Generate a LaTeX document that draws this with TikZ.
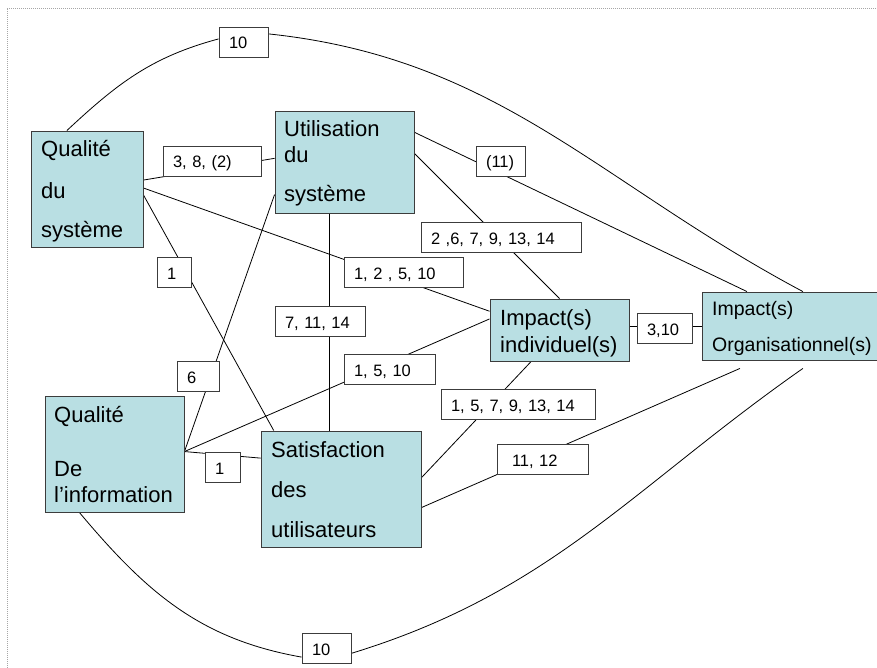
\documentclass[tikz,border=0pt]{standalone}
\usepackage{fontspec}
\setmainfont{Liberation Sans}
\usetikzlibrary{backgrounds}
\definecolor{boxfill}{RGB}{185,223,227}
\definecolor{edge}{RGB}{60,60,60}
\begin{document}
\begin{tikzpicture}[x=1pt,y=-1pt,
  box/.style={rectangle, draw=edge, fill=boxfill, line width=0.9pt, inner sep=0pt},
  tag/.style={rectangle, draw=edge, fill=white, line width=0.9pt, inner xsep=10pt,
    inner ysep=0pt, minimum height=30pt, align=left, text height=14pt, text depth=0pt,
    font=\fontsize{16.5}{18}\selectfont},
  txt/.style={anchor=base west, inner sep=0pt, font=\fontsize{22}{24}\selectfont},
  smalltxt/.style={anchor=base west, inner sep=0pt, font=\fontsize{19.5}{22}\selectfont},
  link/.style={line width=0.8pt, black}]
\useasboundingbox (0,0) rectangle (877,668);
\clip (0,0) rectangle (877,668);

% frame
\draw[gray!70, line width=0.8pt, dash pattern=on 1pt off 1pt] (7,668) -- (7,8) -- (877,8);

% main boxes
\node[box, minimum width=112pt, minimum height=116pt] (QS) at (87,189) {};
\node[box, minimum width=139pt, minimum height=102pt] (US) at (344.5,162) {};
\node[box, minimum width=139pt, minimum height=116pt] (QI) at (114.5,454) {};
\node[box, minimum width=160pt, minimum height=116pt] (SU) at (341,489) {};
\node[box, minimum width=139pt, minimum height=62pt] (II) at (559.5,330) {};
\node[box, minimum width=178pt, minimum height=68pt] (Org) at (791,326) {};

% box texts
\node[txt] (qs1) at (41,157) {Qualité};
\node[txt] (qs2) at (41,199) {du};
\node[txt] (qs3) at (41,237) {système};
\node[txt] (us1) at (284,137) {Utilisation};
\node[txt] (us2) at (284,163) {du};
\node[txt] (us3) at (284,202) {système};
\node[txt] (qi1) at (54,422) {Qualité};
\node[txt] (qi2) at (54,476) {De};
\node[txt] (qi3) at (54,502) {l’information};
\node[txt] (su1) at (271,457) {Satisfaction};
\node[txt] (su2) at (271,497) {des};
\node[txt] (su3) at (271,537) {utilisateurs};
\node[txt] (ii1) at (500,325) {Impact(s)};
\node[txt] (ii2) at (500,352) {individuel(s)};
\node[smalltxt] (or1) at (712,315) {Impact(s)};
\node[smalltxt] (or2) at (712,351) {Organisationnel(s)};

% link labels
\node[tag, text width=29pt] (t10a) at (243.5,42) {10};
\node[tag, text width=78pt] (t382) at (212,161) {3, 8, (2)};
\node[tag, text width=14pt] (t1a) at (174,272) {1};
\node[tag, text width=99pt] (t12510) at (403.5,272) {1, 2 , 5, 10};
\node[tag, text width=140pt] (t267) at (501,237) {2 ,6, 7, 9, 13, 14};
\node[tag, text width=29pt] (t11) at (500.5,161) {(11)};
\node[tag, text width=70pt] (t71114) at (320,321) {7, 11, 14};
\node[tag, text width=71pt] (t1510) at (389.5,369) {1, 5, 10};
\node[tag, text width=22pt] (t6) at (198,376) {6};
\node[tag, text width=15pt] (t1b) at (222.5,467) {1};
\node[tag, text width=134pt] (t157) at (518,404) {1, 5, 7, 9, 13, 14};
\node[tag, inner xsep=0pt, text width=91pt] (t1112) at (542.5,459) {\hspace*{15pt}11, 12};
\node[tag, text width=35pt] (t310) at (664.5,328) {3,10};
\node[tag, text width=29pt] (t10b) at (326.5,648) {10};

% connectors
\begin{pgfonlayer}{background}
\draw[link] (QS.109) to[out=43,in=195] (t10a.173);
\draw[link] (t10a.18) to[out=-6,in=152] (Org.71);
\draw[link] (QI.-121) to[out=-50,in=170] (t10b.200);
\draw[link] (t10b.-12) to[out=17,in=215] ([yshift=-8pt]Org.-71);
\draw[link] (QS.9) -- (US.177);
\draw[link] (QS.1) -- (II.165);
\draw[link] (QS.-6) -- (SU.139);
\draw[link] (US.-106) -- (US.-106 |- SU.north);
\draw[link] (US.-155) -- (QI.2);
\draw[link] (QI.2) -- (II.171);
\draw[link] (QI.2) -- (SU.159);
\draw[link] (US.23) -- (Org.142);
\draw[link] (US.7) -- (II.north);
\draw[link] (II.-132) -- (SU.8);
\draw[link] (SU.-13) -- ([yshift=-8pt]Org.-146);
\draw[link] (II.east |- Org.west) -- (Org.west);
\end{pgfonlayer}
\end{tikzpicture}
\end{document}
